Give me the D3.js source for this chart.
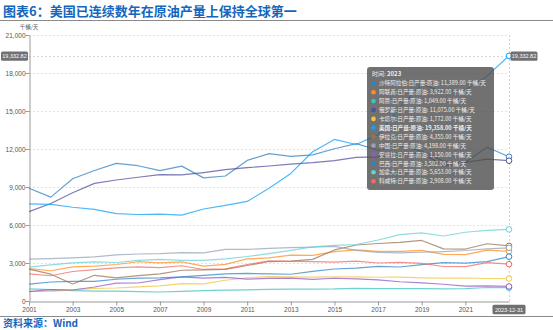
<!DOCTYPE html>
<html>
<head>
<meta charset="utf-8">
<script src="https://cdn.jsdelivr.net/npm/d3@7"></script>
<style>
  body { margin: 0; background: #fff; }
  svg { display: block; font-family: "Liberation Sans", "Noto Sans CJK SC", sans-serif; }
</style>
</head>
<body>
<svg width="553" height="330"></svg>
<script>
// yearly crude output, thousand barrels per day
const years = [2001, 2002, 2003, 2004, 2005, 2006, 2007, 2008, 2009, 2010, 2011, 2012,
               2013, 2014, 2015, 2016, 2017, 2018, 2019, 2020, 2021, 2022, 2023];

const saudi  = [8900, 8200, 9650, 10300, 10870, 10680, 10290, 10650, 9720, 9870, 11100, 11640,
                11420, 11540, 12020, 12420, 11900, 12260, 11830, 11040, 10950, 12140, 11389];
const uae    = [2551, 2390, 2695, 2761, 2880, 3101, 3004, 3088, 2750, 2895, 3320, 3400,
                3627, 3603, 3898, 4038, 3910, 3912, 3998, 3683, 3668, 4020, 3922];
const oman   = [959, 904, 823, 780, 778, 742, 710, 757, 813, 865, 885, 918,
                942, 943, 952, 1004, 971, 978, 971, 951, 971, 1064, 1049];
const russia = [7056, 7698, 8544, 9287, 9552, 9769, 9978, 9950, 10139, 10366, 10529, 10656,
                10807, 10927, 11087, 11342, 11374, 11562, 11679, 10667, 10944, 11202, 11075];
const qatar  = [754, 764, 879, 992, 1028, 1110, 1197, 1378, 1345, 1638, 1834, 1931,
                1903, 1886, 1898, 1899, 1874, 1879, 1832, 1806, 1815, 1778, 1772];
const usa    = [7669, 7626, 7400, 7228, 6895, 6827, 6860, 6785, 7263, 7549, 7859, 8894,
                10071, 11779, 12757, 12354, 13135, 15307, 17114, 16491, 16671, 17770, 19358];
const iraq   = [2523, 2116, 1344, 2030, 1833, 1999, 2143, 2428, 2452, 2490, 2801, 3116,
                3141, 3285, 4031, 4423, 4538, 4632, 4779, 4114, 4102, 4520, 4355];
const china  = [3306, 3346, 3401, 3481, 3642, 3711, 3742, 3814, 3805, 4077, 4074, 4155,
                4216, 4246, 4309, 3999, 3846, 3798, 3848, 3901, 3986, 4111, 4198];
const angola = [742, 896, 870, 1103, 1405, 1421, 1684, 1901, 1804, 1863, 1726, 1784,
                1799, 1712, 1796, 1745, 1674, 1519, 1424, 1324, 1175, 1191, 1150];
const brazil = [1337, 1499, 1555, 1542, 1716, 1809, 1833, 1899, 2029, 2137, 2179, 2145,
                2110, 2341, 2525, 2590, 2734, 2685, 2877, 3026, 2987, 3107, 3502];
const canada = [2677, 2858, 3004, 3085, 3041, 3208, 3290, 3207, 3202, 3332, 3515, 3740,
                4000, 4271, 4388, 4459, 4813, 5244, 5372, 5130, 5429, 5576, 5653];
const kuwait = [2148, 1995, 2329, 2475, 2618, 2690, 2636, 2782, 2489, 2536, 2880, 3165,
                3129, 3101, 3068, 3141, 3001, 3049, 2976, 2722, 2718, 3028, 2908];

const names  = ['沙特阿拉伯', '阿联酋', '阿曼', '俄罗斯', '卡塔尔', '美国',
                '伊拉克', '中国', '安哥拉', '巴西', '加拿大', '科威特'];
const colors = ['#2f82c0', '#ff8f1f', '#3cc3c0', '#4f4f9e', '#f2c53d', '#12a0f5',
                '#9a7352', '#95a3b6', '#9457c6', '#2f86c6', '#66d2d6', '#f06a6a'];

const yTicks  = [0, 3000, 6000, 9000, 12000, 15000, 18000, 21000];
const xLabels = [2001, 2003, 2005, 2007, 2009, 2011, 2013, 2015, 2017, 2019, 2021];
const cursorValue = 19332.82;   // crosshair position on the value axis
const tipYear = 2023;

const allValues = [saudi, uae, oman, russia, qatar, usa, iraq, china, angola, brazil, canada, kuwait];
const series = names.map((n, i) => ({ name: n, values: allValues[i], color: colors[i] }));

const svg = d3.select('svg');
const blue = '#1466bd';

// heading + rules
svg.append('text')
  .attr('x', 3).attr('y', 16)
  .attr('font-family', '"Noto Sans CJK SC", sans-serif')
  .attr('font-size', 13).attr('font-weight', 'bold')
  .attr('fill', blue)
  .text('图表6：美国已连续数年在原油产量上保持全球第一');

svg.append('line').attr('x1', 0).attr('x2', 553).attr('y1', 20.5).attr('y2', 20.5)
  .attr('stroke', '#8a8a8a').attr('stroke-width', 1.2);
svg.append('line').attr('x1', 0).attr('x2', 553).attr('y1', 316.5).attr('y2', 316.5)
  .attr('stroke', '#8a8a8a').attr('stroke-width', 1.2);

svg.append('text')
  .attr('x', 3).attr('y', 327)
  .attr('font-family', '"Noto Sans CJK SC", sans-serif')
  .attr('font-size', 10).attr('font-weight', 'bold')
  .attr('fill', blue)
  .text('资料来源：Wind');

// scales
const x = d3.scalePoint().domain(years).range([29, 509]);
const y = d3.scaleLinear().domain([0, 21000]).range([301, 35]);

// dashed grid
svg.append('g')
  .selectAll('line')
  .data(yTicks.filter(d => d > 0))
  .join('line')
  .attr('x1', 29).attr('x2', 509)
  .attr('y1', d => y(d) + 0.5).attr('y2', d => y(d) + 0.5)
  .attr('stroke', '#e2e2e2').attr('stroke-dasharray', '2,2');

// right frame / vertical crosshair
svg.append('line').attr('x1', 509.5).attr('x2', 509.5).attr('y1', y(21000)).attr('y2', y(0))
  .attr('stroke', '#d4d4d4').attr('stroke-dasharray', '2,2');
// horizontal crosshair
svg.append('line').attr('x1', 29).attr('x2', 509)
  .attr('y1', y(cursorValue) + 0.5).attr('y2', y(cursorValue) + 0.5)
  .attr('stroke', '#d4d4d4').attr('stroke-dasharray', '2,2');

// axes
const yAxis = svg.append('g')
  .attr('transform', 'translate(29.5,0)')
  .call(d3.axisLeft(y).tickValues(yTicks).tickSize(4).tickSizeOuter(0)
    .tickFormat(d3.format(',')));
const xAxis = svg.append('g')
  .attr('transform', `translate(0,${y(0) + 0.5})`)
  .call(d3.axisBottom(x).tickValues(xLabels).tickSize(4).tickSizeOuter(0));

[yAxis, xAxis].forEach(a => {
  a.select('.domain').attr('stroke', '#9a9a9a');
  a.selectAll('.tick line').attr('stroke', '#9a9a9a');
  a.selectAll('.tick text').attr('fill', '#555').attr('font-size', 6.5);
});
yAxis.selectAll('.tick text').attr('x', -4);
xAxis.selectAll('.tick text').attr('y', 6);

svg.append('text')
  .attr('x', 29).attr('y', 29)
  .attr('text-anchor', 'middle')
  .attr('font-family', '"Noto Sans CJK SC", sans-serif')
  .attr('font-size', 5.5).attr('fill', '#666')
  .text('千桶/天');

// lines
const line = d3.line()
  .x((d, i) => x(years[i]))
  .y(d => y(d));

svg.append('g')
  .selectAll('path')
  .data(series)
  .join('path')
  .attr('d', d => line(d.values))
  .attr('fill', 'none')
  .attr('stroke', d => d.color)
  .attr('stroke-opacity', 0.75)
  .attr('stroke-width', 1.2)
  .attr('stroke-linejoin', 'round');

// end markers
const last = years.indexOf(tipYear);
svg.append('g')
  .selectAll('circle')
  .data(series)
  .join('circle')
  .attr('cx', x(tipYear))
  .attr('cy', d => y(d.values[last]))
  .attr('r', 2.8)
  .attr('fill', '#fff')
  .attr('stroke', d => d.color)
  .attr('stroke-width', 1);

// value pills on the axes
function pill(cx, cy, w, label) {
  const g = svg.append('g');
  g.append('rect')
    .attr('x', cx - w / 2).attr('y', cy - 4.7)
    .attr('width', w).attr('height', 9.4).attr('rx', 1.5)
    .attr('fill', '#707070');
  g.append('text')
    .attr('x', cx).attr('y', cy + 2)
    .attr('text-anchor', 'middle')
    .attr('font-size', 5.5).attr('fill', '#fff')
    .text(label);
}
pill(14.5, y(cursorValue), 27, d3.format(',.2f')(cursorValue));
pill(524, y(cursorValue), 27, d3.format(',.2f')(cursorValue));
pill(509, 309.5, 33, tipYear + '-12-31');

// tooltip
const tip = svg.append('g').attr('transform', 'translate(367,67)');
tip.append('rect')
  .attr('width', 127).attr('height', 123).attr('rx', 3)
  .attr('fill', '#4d4d4d').attr('fill-opacity', 0.8);

tip.append('text')
  .attr('x', 5).attr('y', 9.2)
  .attr('font-family', '"Noto Sans CJK SC", sans-serif')
  .attr('font-size', 6).attr('fill', '#eee')
  .text('时间: ')
  .append('tspan').attr('font-weight', 'bold').text(tipYear);

const fmt = d3.format(',.2f');
const rows = tip.selectAll('g.row')
  .data(series)
  .join('g')
  .attr('class', 'row')
  .attr('transform', (d, i) => `translate(0,${16.3 + i * 8.9})`);

rows.append('circle')
  .attr('cx', 6.5).attr('cy', 0)
  .attr('r', 2.3)
  .attr('fill', d => d.color);

rows.append('text')
  .attr('x', 12).attr('y', 2.1)
  .attr('font-family', '"Noto Sans CJK SC", sans-serif')
  .attr('font-size', 5.6)
  .attr('fill', '#eee')
  .attr('font-weight', d => d.name === '美国' ? 'bold' : 'normal')
  .text(d => `${d.name}:日产量:原油: ${fmt(d.values[last])}  千桶/天`);
</script>
</body>
</html>
